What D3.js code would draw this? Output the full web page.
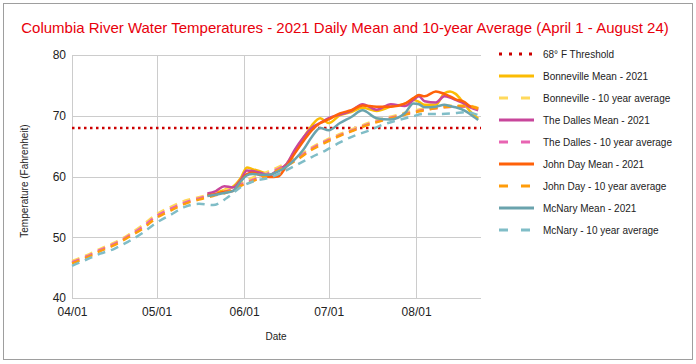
<!DOCTYPE html>
<html>
<head>
<meta charset="utf-8">
<script src="https://cdn.jsdelivr.net/npm/d3@7"></script>
<style>
  body { margin: 0; background: #fff; }
  svg { display: block; font-family: Arial, 'Liberation Sans', sans-serif; }
</style>
</head>
<body>
<svg id="chart" width="696" height="364"></svg>
<script>
// days since April 1, 2021
var avgDays = [0,5,10,15,20,25,30,35,40,45,50,55,60,65,70,75,80,85,90,95,100,105,110,115,120,125,130,135,140,144];
var meanDays = [48,51,54,57,60,62,64,67,70,73,76,79,82,85,88,91,95,99,103,108,113,118,121,123,125,129,132,134,136,139,141,144];

var threshold = 68;
var yTicks = [40, 50, 60, 70, 80];

var bonnevilleAvg = [46.1,47.0,48.1,49.1,50.4,52.0,53.8,55.0,56.0,56.6,57.2,57.9,59.0,60.0,60.9,62.0,63.3,64.8,66.0,67.0,67.9,68.8,69.5,70.1,70.7,71.2,71.5,71.7,71.7,71.3];
var dallesAvg     = [45.9,46.8,47.9,48.9,50.2,51.7,53.5,54.7,55.7,56.4,57.0,57.6,58.7,59.6,60.6,61.7,63.0,64.6,65.8,66.8,67.7,68.6,69.3,69.9,70.5,71.0,71.3,71.5,71.5,71.1];
var johnDayAvg    = [45.7,46.6,47.7,48.7,50.0,51.4,53.2,54.4,55.5,56.2,56.8,57.4,58.5,59.4,60.4,61.5,62.8,64.4,65.6,66.7,67.6,68.5,69.2,69.8,70.4,70.9,71.3,71.5,71.6,71.2];
var mcnaryAvg     = [45.3,46.3,47.3,48.1,49.3,50.7,52.4,53.7,55.0,55.5,55.3,56.5,58.3,59.3,59.8,60.8,62.0,63.2,64.3,65.6,66.7,67.5,68.5,69.2,69.8,70.3,70.3,70.4,70.6,70.1];

var bonnevilleMean = [57.0,57.3,57.8,58.3,59.9,61.5,61.2,60.8,60.3,60.9,62.0,64.2,66.3,68.4,69.6,68.8,70.1,70.6,71.3,70.8,71.5,72.0,72.6,72.3,71.8,71.8,73.7,74.0,73.6,72.0,70.8,69.5];
var dallesMean     = [57.2,57.6,58.4,58.2,59.6,61.0,60.9,60.6,60.2,61.1,62.0,64.4,66.4,68.0,68.8,69.6,70.2,70.8,71.9,71.0,71.9,71.6,72.6,73.2,72.4,72.2,73.2,73.0,72.6,72.0,71.4,70.9];
var johnDayMean    = [56.9,57.1,57.5,57.6,59.4,60.4,60.6,60.2,59.9,60.0,61.7,63.8,65.8,67.6,68.8,69.4,70.4,70.9,71.7,71.5,71.5,72.0,72.9,73.4,73.2,74.0,73.6,73.2,72.7,72.3,71.6,71.2];
var mcnaryMean     = [56.8,57.0,57.3,57.6,59.3,60.2,60.4,60.3,60.3,60.8,61.6,62.8,64.4,66.5,68.0,67.6,68.8,69.8,70.9,69.6,69.4,70.4,72.0,71.9,71.4,71.5,71.8,71.6,71.4,70.9,70.3,69.3];

var series = [
  { name: 'Bonneville Mean - 2021', days: meanDays, values: bonnevilleMean, color: '#fbbc04', dash: null },
  { name: 'Bonneville - 10 year average', days: avgDays, values: bonnevilleAvg, color: '#ffd95c', dash: '8,6' },
  { name: 'The Dalles Mean - 2021', days: meanDays, values: dallesMean, color: '#c8469b', dash: null },
  { name: 'The Dalles - 10 year average', days: avgDays, values: dallesAvg, color: '#e864b2', dash: '8,6' },
  { name: 'John Day Mean - 2021', days: meanDays, values: johnDayMean, color: '#ff6109', dash: null },
  { name: 'John Day - 10 year average', days: avgDays, values: johnDayAvg, color: '#ff9c0a', dash: '8,6' },
  { name: 'McNary Mean - 2021', days: meanDays, values: mcnaryMean, color: '#6aa3ad', dash: null },
  { name: 'McNary - 10 year average', days: avgDays, values: mcnaryAvg, color: '#80bdc7', dash: '8,6' }
];

var start = new Date(2021, 3, 1);
var end = new Date(2021, 7, 24);

var svg = d3.select('#chart');

svg.append('rect')
  .attr('x', 0).attr('y', 0).attr('width', 696).attr('height', 364)
  .attr('fill', '#fff');
svg.append('rect')
  .attr('x', 3.5).attr('y', 3.5).attr('width', 689).attr('height', 356)
  .attr('fill', 'none').attr('stroke', '#9e9e9e').attr('stroke-width', 1);

svg.append('text')
  .attr('x', 345).attr('y', 33)
  .attr('text-anchor', 'middle')
  .attr('fill', '#e8000b')
  .style('font-size', '15px')
  .text('Columbia River Water Temperatures - 2021 Daily Mean and 10-year Average (April 1 - August 24)');

var x = d3.scaleTime().domain([start, end]).range([72, 481]);
var y = d3.scaleLinear().domain([40, 80]).range([298, 55]);

// grid
svg.append('g').selectAll('line')
  .data(yTicks)
  .enter().append('line')
  .attr('x1', 72).attr('x2', 481)
  .attr('y1', function(d) { return Math.round(y(d)) + 0.5; })
  .attr('y2', function(d) { return Math.round(y(d)) + 0.5; })
  .attr('stroke', '#cccccc');

var months = d3.timeMonth.range(start, end);
svg.append('g').selectAll('line')
  .data(months)
  .enter().append('line')
  .attr('x1', function(d) { return Math.round(x(d)) + 0.5; })
  .attr('x2', function(d) { return Math.round(x(d)) + 0.5; })
  .attr('y1', 55).attr('y2', 298)
  .attr('stroke', '#cccccc');

// axes
var yAxis = d3.axisLeft(y).tickValues(yTicks).tickSize(0).tickPadding(6);
var yg = svg.append('g').attr('transform', 'translate(72,0)').call(yAxis);
yg.select('.domain').remove();
yg.selectAll('text').style('font-size', '12px').attr('fill', '#222');

var xAxis = d3.axisBottom(x).tickValues(months).tickFormat(d3.timeFormat('%m/%d')).tickSize(0).tickPadding(9);
var xg = svg.append('g').attr('transform', 'translate(0,298)').call(xAxis);
xg.select('.domain').remove();
xg.selectAll('text').style('font-size', '12px').attr('fill', '#222');

svg.append('text')
  .attr('transform', 'translate(28,181) rotate(-90)')
  .attr('text-anchor', 'middle')
  .attr('fill', '#222')
  .style('font-size', '10px')
  .text('Temperature (Fahrenheit)');

svg.append('text')
  .attr('x', 276).attr('y', 340)
  .attr('text-anchor', 'middle')
  .attr('fill', '#222')
  .style('font-size', '10px')
  .text('Date');

// threshold
svg.append('line')
  .attr('x1', 72).attr('x2', 481)
  .attr('y1', y(threshold)).attr('y2', y(threshold))
  .attr('stroke', '#cc0000')
  .attr('stroke-width', 2.5)
  .attr('stroke-dasharray', '2.5,3.5');

var line = d3.line()
  .x(function(d) { return x(d.date); })
  .y(function(d) { return y(d.value); })
  .curve(d3.curveMonotoneX);

series.forEach(function(s) {
  var pts = s.days.map(function(dd, i) {
    return { date: d3.timeDay.offset(start, dd), value: s.values[i] };
  });
  svg.append('path')
    .datum(pts)
    .attr('d', line)
    .attr('fill', 'none')
    .attr('stroke', s.color)
    .attr('stroke-width', 2.5)
    .attr('stroke-linejoin', 'round')
    .attr('stroke-dasharray', s.dash);
});

// legend
var legendItems = [{ name: '68\u00b0 F Threshold', color: '#cc0000', dash: '3,7' }].concat(series.map(function(s) {
  return { name: s.name, color: s.color, dash: s.dash ? '9,13' : null };
}));

var legend = svg.append('g').selectAll('g')
  .data(legendItems)
  .enter().append('g')
  .attr('transform', function(d, i) { return 'translate(0,' + (54 + i * 22) + ')'; });

legend.append('line')
  .attr('x1', 499).attr('x2', 534)
  .attr('stroke', function(d) { return d.color; })
  .attr('stroke-width', 3)
  .attr('stroke-dasharray', function(d) { return d.dash; });

legend.append('text')
  .attr('x', 543).attr('y', 3.5)
  .attr('fill', '#222')
  .style('font-size', '10px')
  .text(function(d) { return d.name; });
</script>
</body>
</html>
